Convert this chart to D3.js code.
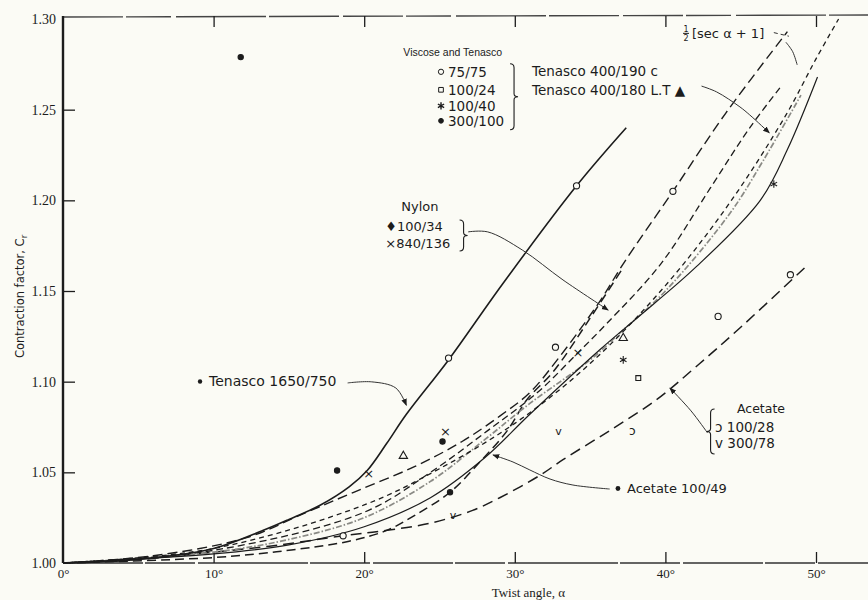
<!DOCTYPE html>
<html>
<head>
<meta charset="utf-8">
<script src="https://cdn.jsdelivr.net/npm/d3@7"></script>
<style>
  html, body { margin: 0; padding: 0; background: #fbfbf5; }
  svg { display: block; }
</style>
</head>
<body>
<div id="chart"></div>
<script>
// ── Values: [twist angle (deg), contraction factor] ──
const tenasco1650  = [[0,1.000],[5,1.002],[10,1.008],[13.3,1.018],[15,1.024],[17.1,1.032],[19,1.042],[20.2,1.051],[21.5,1.066],[22.8,1.082],[25.6,1.112],[29.2,1.154],[34.1,1.208],[37.4,1.240]];
const nylonCurve   = [[0,1.000],[6,1.004],[12.2,1.014],[15.9,1.027],[19.3,1.039],[23.3,1.053],[26.5,1.067],[29.0,1.081],[31,1.094],[33,1.114],[35.7,1.145],[37.2,1.165],[40.5,1.205],[44,1.248],[48.1,1.293]];
const halfSecCurve = [[0,1.000],[10,1.008],[20,1.032],[25,1.052],[30,1.077],[35,1.110],[40,1.153],[44.3,1.199],[48,1.247],[50,1.278],[51.5,1.300]];
const tenasco400   = [[0,1.000],[10,1.007],[20,1.028],[24.4,1.050],[28.2,1.073],[31.5,1.094],[34.2,1.116],[36.1,1.132],[39.7,1.165],[43,1.207],[45.6,1.240],[47.6,1.262]];
const viscoseDots  = [[0,1.000],[10,1.006],[15,1.013],[20,1.025],[24.4,1.045],[28,1.068],[31,1.088],[35,1.112],[37,1.127],[40,1.150],[44.3,1.193],[46.5,1.222],[49,1.258]];
const viscoseLine  = [[0,1.000],[10,1.005],[15,1.010],[20,1.020],[24.4,1.036],[28,1.058],[31,1.082],[35.7,1.118],[38.1,1.135],[42,1.163],[46.3,1.200],[48.1,1.228],[50.1,1.268]];
const acetate49    = [[0,1.000],[10,1.003],[15,1.007],[19,1.012],[21.5,1.018],[23.3,1.026],[25.7,1.039],[27.6,1.055],[29.5,1.073],[30.8,1.090],[32.6,1.106],[35,1.135],[37.2,1.163]];
const acetateCurve = [[0,1.000],[5,1.002],[10,1.006],[14.4,1.010],[18.6,1.015],[21.5,1.018],[24.4,1.022],[27.2,1.029],[29,1.036],[31.7,1.0485],[33.2,1.057],[36.3,1.073],[39.4,1.090],[42,1.108],[45,1.130],[49.4,1.164]];

// plotted points
const circlePts   = [[25.6,1.113],[34.1,1.208],[40.5,1.205],[43.5,1.136],[48.3,1.159],[18.6,1.015],[32.7,1.119]];
const squarePts   = [[38.2,1.102]];
const starPts     = [[37.2,1.112],[47.2,1.209]];
const dotPts      = [[18.2,1.051],[25.2,1.067],[11.8,1.279],[25.7,1.039]];
const crossPts    = [[20.3,1.049],[25.4,1.072],[34.2,1.116]];
const trianglePts = [[22.6,1.059],[37.2,1.124]];
const hookPts     = [[37.8,1.073]];
const vPts        = [[32.9,1.072],[25.9,1.026]];

// ticks and legend texts
const xTicks = [0, 10, 20, 30, 40, 50];
const yTicks = [1.00, 1.05, 1.10, 1.15, 1.20, 1.25, 1.30];
const viscoseLegend = ["75/75", "100/24", "100/40", "300/100"];
const nylonLegend   = ["100/34", "840/136"];
const acetateLegend = ["100/28", "300/78"];

const W = 868, H = 600;
const INK = "#1c1c1c";
const PAPER = "#fbfbf5";
const SANS = "'DejaVu Sans', sans-serif";
const SERIF = "'Liberation Serif', serif";

const x = d3.scaleLinear().domain([0, 50]).range([63, 816]);
const y = d3.scaleLinear().domain([1.0, 1.3]).range([563, 19]);

const svg = d3.select("#chart").append("svg").attr("width", W).attr("height", H);
svg.append("rect").attr("width", W).attr("height", H).attr("fill", PAPER);

const defs = svg.append("defs");
defs.append("marker").attr("id", "arr")
  .attr("viewBox", "0 0 10 10").attr("refX", 9).attr("refY", 5)
  .attr("markerWidth", 7).attr("markerHeight", 7).attr("orient", "auto")
  .append("path").attr("d", "M0,1 L10,5 L0,9 z").attr("fill", INK);

// six-armed star used for the 100/40 points
const symbolStar = {
  draw(ctx, size) {
    const r = Math.sqrt(size) * 0.6;
    for (let i = 0; i < 3; i++) {
      const a = Math.PI / 2 + i * Math.PI / 3;
      ctx.moveTo(r * Math.cos(a), r * Math.sin(a));
      ctx.lineTo(-r * Math.cos(a), -r * Math.sin(a));
    }
  }
};

// ── Frame and axes ──────────────────────────────────────────────────────
svg.append("line")
  .attr("x1", x(0)).attr("x2", W).attr("y1", y(1.3) - 2).attr("y2", y(1.3) - 4)
  .attr("stroke", "#444").attr("stroke-width", 1.4)
  .attr("stroke-dasharray", "60,3,45,5,90,3,70,4");
svg.append("line")
  .attr("x1", x(0)).attr("x2", W).attr("y1", y(1.0)).attr("y2", y(1.0))
  .attr("stroke", "#333").attr("stroke-width", 1.5)
  .attr("stroke-dasharray", "80,2,50,3,110,2,60,3");

const yAxis = svg.append("g").attr("transform", `translate(${x(0)},0)`)
  .call(d3.axisLeft(y).tickValues(yTicks).tickSize(-12).tickPadding(7).tickFormat(d3.format(".2f")));
const xAxis = svg.append("g").attr("transform", `translate(0,${y(1.0)})`)
  .call(d3.axisBottom(x).tickValues(xTicks).tickSize(-11).tickPadding(6).tickFormat(d => d + "°"));
const topAxis = svg.append("g").attr("transform", `translate(0,${y(1.3) - 3})`)
  .call(d3.axisTop(x).tickValues(xTicks.slice(1)).tickSize(-11).tickFormat(""));

[yAxis, xAxis, topAxis].forEach(a => {
  a.select(".domain").remove();
  a.selectAll(".tick line").attr("stroke", INK).attr("stroke-width", 1.3);
  a.selectAll("text").attr("fill", INK).style("font-family", SERIF).style("font-size", "14px");
});
xAxis.selectAll("text").style("font-size", "13px");
yAxis.selectAll(".tick line").filter(d => d === 1.0 || d === 1.3).remove();
xAxis.selectAll(".tick line").filter(d => d === 0).remove();

svg.append("line")
  .attr("x1", x(0)).attr("x2", x(0)).attr("y1", y(1.3) - 3).attr("y2", y(1.0))
  .attr("stroke", INK).attr("stroke-width", 2.4);

svg.append("text")
  .attr("x", x(30.9)).attr("y", y(1.0) + 34)
  .attr("text-anchor", "middle").attr("fill", INK)
  .style("font-family", SERIF).style("font-size", "13px")
  .text("Twist angle, α");

const yt = svg.append("text")
  .attr("transform", `translate(24,${y(1.147)}) rotate(-90)`)
  .attr("text-anchor", "middle").attr("fill", INK)
  .style("font-family", SANS).style("font-size", "11.5px");
yt.append("tspan").text("Contraction factor, C");
yt.append("tspan").attr("font-size", "8.5px").attr("dy", 3).text("r");

// ── Curves ──────────────────────────────────────────────────────────────
const line = d3.line().x(d => x(d[0])).y(d => y(d[1])).curve(d3.curveCatmullRom.alpha(0.5));
const curves = [
  { data: acetateCurve, dash: "11,6",      w: 1.5, c: INK },
  { data: acetate49,    dash: "9,5",       w: 1.5, c: INK },
  { data: viscoseDots,  dash: "6,2,1.5,2", w: 1.7, c: "#8a8a85" },
  { data: viscoseLine,  dash: null,        w: 1.2, c: INK },
  { data: tenasco400,   dash: "7,4",       w: 1.3, c: INK },
  { data: halfSecCurve, dash: "5,4",       w: 1.3, c: INK },
  { data: nylonCurve,   dash: "10,5",      w: 1.4, c: INK },
  { data: tenasco1650,  dash: null,        w: 1.6, c: INK }
];
svg.append("g").selectAll("path").data(curves).join("path")
  .attr("d", d => line(d.data))
  .attr("fill", "none")
  .attr("stroke", d => d.c)
  .attr("stroke-width", d => d.w)
  .attr("stroke-dasharray", d => d.dash);

// ── Points ──────────────────────────────────────────────────────────────
const pts = svg.append("g");
function sym(type, size, data, filled) {
  pts.selectAll(null).data(data).join("path")
    .attr("transform", d => `translate(${x(d[0])},${y(d[1])})`)
    .attr("d", d3.symbol().type(type).size(size))
    .attr("fill", filled ? INK : PAPER)
    .attr("stroke", INK).attr("stroke-width", 1.1);
}
function glyph(ch, data, fs, dy) {
  pts.selectAll(null).data(data).join("text")
    .attr("x", d => x(d[0])).attr("y", d => y(d[1]) + dy)
    .attr("text-anchor", "middle").attr("fill", INK)
    .style("font-family", SANS).style("font-size", fs + "px")
    .text(ch);
}
sym(d3.symbolCircle, 30, circlePts, false);
sym(d3.symbolSquare, 24, squarePts, false);
sym(d3.symbolTriangle, 30, trianglePts, false);
sym(d3.symbolCircle, 22, dotPts, true);
sym(symbolStar, 40, starPts, false);
glyph("×", crossPts, 13, 4);
glyph("ɔ", hookPts, 12, 4);
glyph("v", vPts, 11, 3);

// ── Annotations ─────────────────────────────────────────────────────────
const ann = svg.append("g").attr("fill", INK).style("font-family", SANS);
function label(deg, c, txt, fs, anchor) {
  return ann.append("text").attr("x", x(deg)).attr("y", y(c))
    .attr("text-anchor", anchor || "start").style("font-size", fs + "px").text(txt);
}
function bracket(px, y1, y2, dir) {
  const k = 4 * dir, ym = (y1 + y2) / 2;
  ann.append("path")
    .attr("d", `M${px - k},${y1} Q${px},${y1} ${px},${y1 + 4} L${px},${ym - 3} Q${px},${ym} ${px + k},${ym}` +
               ` Q${px},${ym} ${px},${ym + 3} L${px},${y2 - 4} Q${px},${y2} ${px - k},${y2}`)
    .attr("fill", "none").attr("stroke", INK).attr("stroke-width", 1.1);
}
const leader = d3.line().x(d => x(d[0])).y(d => y(d[1])).curve(d3.curveCatmullRom.alpha(0.5));
function arrow(pts, withHead, dash) {
  ann.append("path").attr("d", leader(pts))
    .attr("fill", "none").attr("stroke", "#333").attr("stroke-width", 1)
    .attr("stroke-dasharray", dash || null)
    .attr("marker-end", withHead ? "url(#arr)" : null);
}

// Viscose and Tenasco block
ann.append("text").attr("x", x(22.6)).attr("y", y(1.2797))
  .style("font-family", "'Liberation Sans', sans-serif").style("font-size", "10.5px")
  .text("Viscose and Tenasco");
const vx = x(25.1), vy0 = y(1.2797);
const rowDy = [21, 39, 55, 70];
const vSyms = [d3.symbolCircle, d3.symbolSquare, symbolStar, d3.symbolCircle];
viscoseLegend.forEach((t, i) => {
  const by = vy0 + rowDy[i];
  ann.append("path").attr("transform", `translate(${vx},${by - 5})`)
    .attr("d", d3.symbol().type(vSyms[i]).size(i === 2 ? 36 : i === 3 ? 18 : 22))
    .attr("fill", i === 3 ? INK : PAPER).attr("stroke", INK).attr("stroke-width", i === 2 ? 1.4 : 1);
  ann.append("text").attr("x", vx + 7).attr("y", by).style("font-size", "13.5px").text(t);
});
bracket(x(29.95), vy0 + 8, vy0 + 74, 1);
label(31.14, 1.2686, "Tenasco 400/190 c", 13.5);
label(31.14, 1.2581, "Tenasco 400/180  L.T ▲", 13.5);
arrow([[42.4,1.2630],[43.4,1.2598],[44.95,1.2515],[45.6,1.2471],[46.9,1.2372]], true);

// 1/2 [sec a + 1]
const hx = x(41.17), hy = y(1.2896);
ann.append("text").attr("x", hx + 3).attr("y", hy - 6).attr("text-anchor", "middle").style("font-size", "8px").text("1");
ann.append("line").attr("x1", hx).attr("x2", hx + 6).attr("y1", hy - 4.5).attr("y2", hy - 4.5).attr("stroke", INK);
ann.append("text").attr("x", hx + 3).attr("y", hy + 3).attr("text-anchor", "middle").style("font-size", "8px").text("2");
ann.append("text").attr("x", hx + 9).attr("y", hy).style("font-size", "13px").text("[sec α + 1]");
arrow([[47.2,1.2925],[48.2,1.2905]], false, "4,3");
arrow([[48.0,1.2872],[48.45,1.2820],[48.75,1.2747]], false);

// Nylon block
label(23.7, 1.1942, "Nylon", 13, "middle");
nylonLegend.forEach((t, i) => {
  ann.append("text").attr("x", x(21.4)).attr("y", y(1.1831) + i * 17)
    .style("font-size", "13px").text((i === 0 ? "♦" : "×") + t);
});
bracket(x(26.6), y(1.1831) - 11, y(1.1831) + 20, 1);
arrow([[26.9,1.1826],[28.2,1.1826],[30.5,1.1726],[33.2,1.1561],[36.2,1.1395]], true);

// Tenasco 1650/750
ann.append("circle").attr("cx", x(9.1)).attr("cy", y(1.0976) - 4.5).attr("r", 2.2).attr("fill", INK);
label(9.7, 1.0976, "Tenasco 1650/750", 14);
arrow([[18.9,1.0993],[20.5,1.0999],[22.1,1.0965],[22.8,1.0870]], true);

// Acetate 100/49
ann.append("circle").attr("cx", x(36.85)).attr("cy", y(1.0386) - 4.5).attr("r", 2.4).attr("fill", INK);
label(37.45, 1.0386, "Acetate 100/49", 13);
arrow([[36.3,1.0408],[33.86,1.0430],[32.34,1.0463],[31.0,1.0513],[29.88,1.0557],[28.55,1.0596]], true);

// Acetate block
label(44.75, 1.0827, "Acetate", 12.5);
acetateLegend.forEach((t, i) => {
  ann.append("text").attr("x", x(43.3)).attr("y", y(1.0723) + i * 16)
    .style("font-size", "13.5px").text((i === 0 ? "ɔ " : "v ") + t);
});
bracket(x(43.0), y(1.0827) - 4, y(1.0634) + 6, -1);
arrow([[42.8,1.0717],[41.7,1.0839],[40.3,1.0965]], true);
</script>
</body>
</html>
